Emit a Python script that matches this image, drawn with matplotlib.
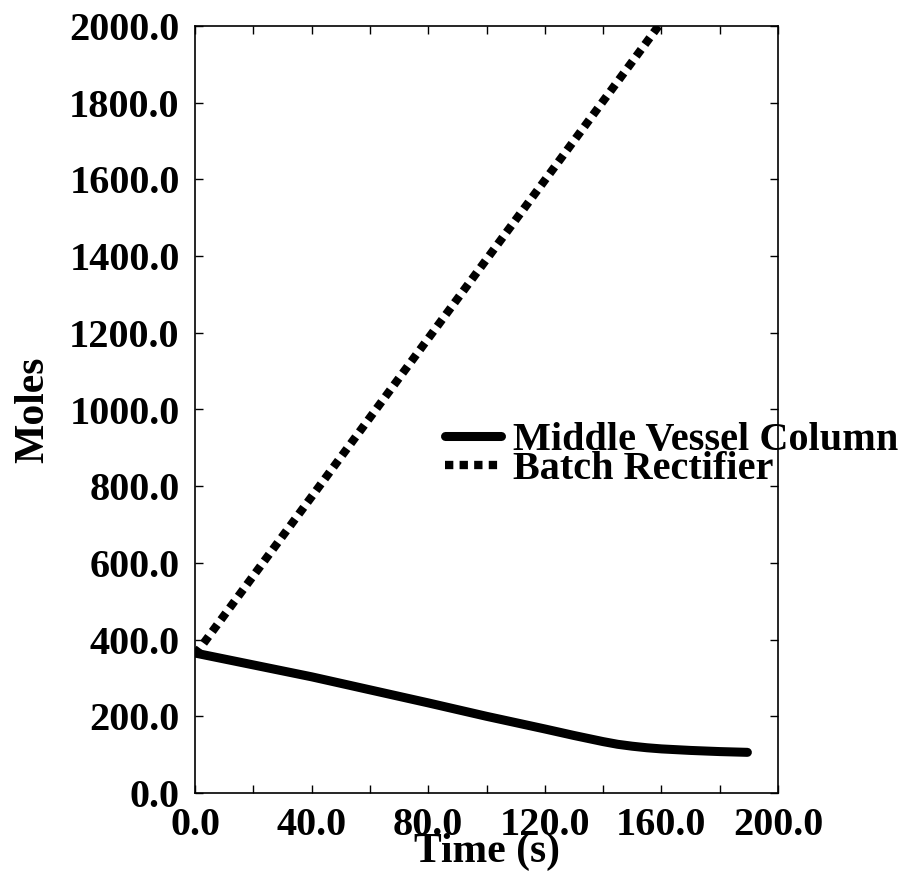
import matplotlib
matplotlib.use('Agg')
import matplotlib.pyplot as plt
import numpy as np

plt.rcParams['font.family'] = ['Liberation Serif', 'DejaVu Serif']
plt.rcParams['font.weight'] = 'bold'

# Middle vessel column holdup
t_mv = [0, 20, 40, 60, 80, 100, 120, 130, 140, 145, 150, 155, 160, 170, 180, 189.5]
moles_mv = [365, 334, 303, 269, 235, 200, 167, 150, 134, 127, 122, 118, 115, 111, 108, 106]

# Batch rectifier: straight line
t_br = [0, 159]
moles_br = [360, 2000]

x_major = [0, 40, 80, 120, 160, 200]
x_minor = [20, 60, 100, 140, 180]
y_ticks = [0, 200, 400, 600, 800, 1000, 1200, 1400, 1600, 1800, 2000]

fig = plt.figure(figsize=(9.09, 8.71), dpi=100)
ax = fig.add_axes([195/909, 78/871, 583/909, 767/871])

ax.plot(t_mv, moles_mv, color='black', linewidth=6.5, solid_capstyle='round',
        solid_joinstyle='round', label='Middle Vessel Column')
ax.plot(t_br, moles_br, color='black', linewidth=6, linestyle=(0, (1, 0.75)),
        dash_capstyle='butt', label='Batch Rectifier')

ax.set_xlim(0, 200)
ax.set_ylim(0, 2000)
ax.set_xticks(x_major)
ax.set_xticks(x_minor, minor=True)
ax.set_yticks(y_ticks)
ax.set_xticklabels(['%.1f' % v for v in x_major])
ax.set_yticklabels(['%.1f' % v for v in y_ticks])
ax.tick_params(which='both', direction='in', top=True, right=True, length=6,
               width=1, labelsize=29)
ax.tick_params(axis='x', pad=10)
ax.tick_params(axis='y', pad=11)
for s in ax.spines.values():
    s.set_linewidth(1.2)

ax.set_xlabel('Time (s)', fontsize=30, fontweight='bold', labelpad=-8)
ax.set_ylabel('Moles', fontsize=30, fontweight='bold', labelpad=12)

fig.legend(loc='center left', bbox_to_anchor=(445/909, 1 - 455/871),
           frameon=False, fontsize=29, handlelength=1.4, handletextpad=0.3,
           labelspacing=-0.22, borderpad=0, borderaxespad=0)

fig.savefig('out.png', dpi=100)
